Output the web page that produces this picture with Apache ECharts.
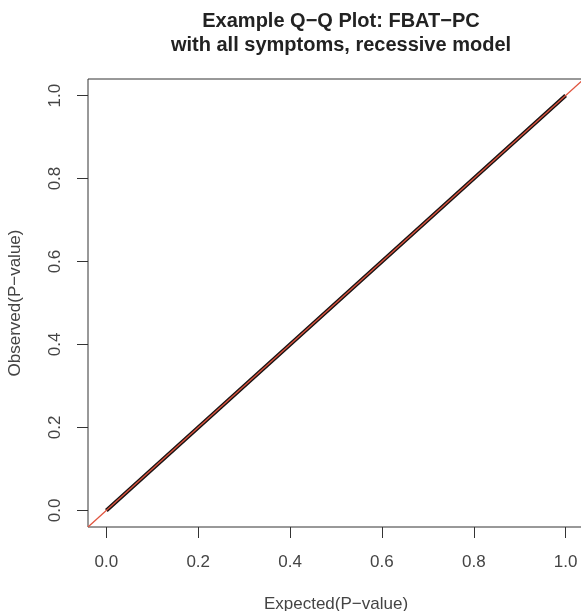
<!DOCTYPE html>
<html>
<head>
<meta charset="utf-8">
<style>
  html, body { margin: 0; padding: 0; background: #fff; }
  #chart { width: 581px; height: 611px; }
</style>
<script src="https://cdn.jsdelivr.net/npm/echarts@6/dist/echarts.min.js"></script>
</head>
<body>
<div id="chart"></div>
<script>
// Q-Q plot: observed vs expected p-values, with y = x reference line
const FONT = '"Liberation Sans", Arial, Helvetica, sans-serif'

const tickValues = [0, 0.2, 0.4, 0.6, 0.8, 1.0]
const expected = [0, 0.05, 0.1, 0.15, 0.2, 0.25, 0.3, 0.35, 0.4, 0.45, 0.5,
                  0.55, 0.6, 0.65, 0.7, 0.75, 0.8, 0.85, 0.9, 0.95, 1.0]
const observed = [0, 0.05, 0.1, 0.15, 0.2, 0.25, 0.3, 0.35, 0.4, 0.45, 0.5,
                  0.55, 0.6, 0.65, 0.7, 0.75, 0.8, 0.85, 0.9, 0.95, 1.0]
// abline(0, 1) drawn across the whole plot region
const ablineX = [-0.04, 1.04]
const ablineY = [-0.04, 1.04]

const axisMin = -0.04
const axisMax = 1.04

const chart = echarts.init(document.getElementById('chart'), null, { renderer: 'canvas' })

const axisCommon = {
  type: 'value',
  min: axisMin,
  max: axisMax,
  nameLocation: 'middle',
  nameTextStyle: { fontSize: 17, color: '#444', fontFamily: FONT },
  axisLine: { show: false, onZero: false },
  splitLine: { show: false },
  axisTick: {
    show: true, length: 11, customValues: tickValues,
    lineStyle: { color: '#333', width: 1 },
  },
  axisLabel: {
    customValues: tickValues, fontSize: 17, color: '#444', fontFamily: FONT,
    formatter: v => v.toFixed(1),
  },
}

chart.setOption({
  animation: false,
  textStyle: { fontFamily: FONT },
  title: {
    text: 'Example Q\u2212Q Plot: FBAT\u2212PC\nwith all symptoms, recessive model',
    left: 336, top: 4, textAlign: 'center',
    textStyle: { fontSize: 20, fontWeight: 'bold', color: '#222', lineHeight: 24, fontFamily: FONT },
  },
  grid: {
    left: 88, top: 79, width: 496, height: 448,
    show: true, borderColor: '#333', borderWidth: 1,
    containLabel: false, outerBoundsMode: 'none',
  },
  xAxis: Object.assign({}, axisCommon, {
    name: 'Expected(P\u2212value)', nameGap: 69,
    axisLabel: Object.assign({}, axisCommon.axisLabel, { margin: 27 }),
  }),
  yAxis: Object.assign({}, axisCommon, {
    name: 'Observed(P\u2212value)', nameGap: 64,
    axisLabel: Object.assign({}, axisCommon.axisLabel, { margin: 24, rotate: 90 }),
  }),
  series: [
    {
      name: 'points', type: 'line',
      data: expected.map((x, i) => [x, observed[i]]),
      showSymbol: false, lineStyle: { width: 4, color: '#1a1414' }, z: 2,
    },
    {
      name: 'abline', type: 'line',
      data: ablineX.map((x, i) => [x, ablineY[i]]),
      showSymbol: false, lineStyle: { width: 1.3, color: '#e0553f' }, z: 3,
    },
  ],
})
</script>
</body>
</html>
